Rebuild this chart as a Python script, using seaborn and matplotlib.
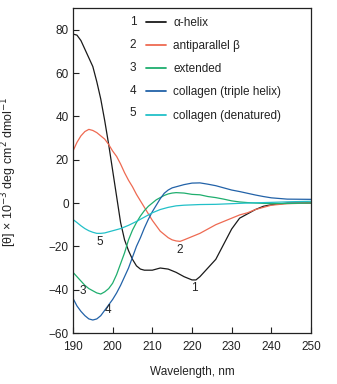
import numpy as np
import pandas as pd
import matplotlib
matplotlib.use("Agg")
import matplotlib.pyplot as plt
import seaborn as sns
from matplotlib.lines import Line2D

series_names = ["α-helix", "antiparallel β", "extended", "collagen (triple helix)", "collagen (denatured)"]
series_numbers = ["1", "2", "3", "4", "5"]
colors = ["#1a1a1a", "#ee6a52", "#1fae6e", "#2262a8", "#22c0c8"]

helix_wl = [190, 191, 192, 193, 194, 195, 196, 197, 198, 199, 200, 201, 202, 203, 204, 205, 206, 207, 208, 210, 212, 214, 216, 218, 220, 221, 222, 224, 226, 228, 230, 232, 234, 236, 238, 240, 244, 250]
helix_val = [78, 77.5, 75, 71, 67, 63, 56, 48, 38, 27, 15, 3, -9, -17, -22, -26, -29, -30.5, -31, -31, -30, -30.5, -32, -34, -35.5, -35.5, -34, -30, -26, -19, -12, -7, -5, -3, -1.5, -0.8, 0, 0]

beta_wl = [190, 191, 192, 193, 194, 195, 196, 197, 198, 199, 200, 201, 202, 203, 204, 205, 206, 207, 208, 209, 210, 211, 212, 213, 214, 215, 216, 217, 218, 220, 222, 224, 226, 228, 230, 232, 234, 236, 238, 240, 244, 250]
beta_val = [24, 28, 31, 33, 34, 33.5, 32.5, 31, 29.5, 27, 24, 21.5, 18, 14, 10.5, 7.5, 4, 1, -2, -5, -8, -10.5, -13, -14.5, -16, -17, -17.5, -17.7, -17, -15.5, -14, -12, -10, -8.5, -7, -5.5, -4.5, -3, -2, -1, -0.3, 0]

ext_wl = [190, 191, 192, 193, 194, 195, 196, 197, 198, 199, 200, 201, 202, 203, 204, 205, 206, 207, 208, 209, 210, 211, 212, 213, 214, 215, 216, 218, 220, 222, 224, 226, 228, 230, 232, 234, 236, 240, 244, 250]
ext_val = [-32, -34, -36, -38, -39.5, -40.5, -41.5, -42, -41, -39.5, -37, -33, -28, -23, -17, -12.5, -9, -6, -3.5, -1.5, 0, 1.5, 2.5, 3.5, 4.2, 4.6, 4.8, 4.6, 4, 3.8, 3, 2.5, 1.8, 1, 0.5, 0.2, 0, -0.3, -0.2, 0]

trip_wl = [190, 191, 192, 193, 194, 195, 196, 197, 198, 199, 200, 201, 202, 203, 204, 205, 206, 207, 208, 209, 210, 211, 212, 213, 214, 215, 216, 218, 220, 222, 224, 226, 228, 230, 232, 234, 236, 238, 240, 244, 250]
trip_val = [-44, -47.5, -50, -52, -53.5, -54, -53.5, -52, -49.5, -47, -44.5, -41.5, -38, -34, -30, -25, -20, -16, -11.5, -7.5, -4, -1, 2, 4.5, 6, 7, 7.5, 8.5, 9.2, 9.3, 8.7, 8, 7, 6, 5.3, 4.5, 3.7, 3, 2.4, 1.8, 1.7]

den_wl = [190, 191, 192, 193, 194, 195, 196, 197, 198, 199, 200, 202, 204, 206, 208, 210, 212, 214, 216, 218, 222, 226, 230, 234, 240, 245, 250]
den_val = [-7.6, -9, -10.5, -11.8, -12.8, -13.5, -14, -14, -13.8, -13.3, -12.8, -11.8, -10.3, -8.5, -6.5, -4.5, -3, -2, -1.3, -1, -0.7, -0.6, -0.3, 0, 0.3, 0.6, 0.8]

label_wl = [220.7, 217, 192.5, 198.9, 196.8]
label_val = [-39, -21.5, -40.5, -49.5, -18]

all_wl = [helix_wl, beta_wl, ext_wl, trip_wl, den_wl]
all_val = [helix_val, beta_val, ext_val, trip_val, den_val]

frames = []
for name, wl, val in zip(series_names, all_wl, all_val):
    frames.append(pd.DataFrame({"wl": wl, "val": val, "series": name}))
df = pd.concat(frames, ignore_index=True)

sns.set_style("ticks")
plt.rcParams["font.family"] = ["Liberation Sans", "DejaVu Sans"]
plt.rcParams["axes.unicode_minus"] = True

fig = plt.figure(figsize=(3.37, 3.84), dpi=100)
ax = fig.add_axes([0.2166, 0.1328, 0.7062, 0.8462])

sns.lineplot(data=df, x="wl", y="val", hue="series", palette=colors,
             hue_order=series_names, estimator=None, sort=False,
             linewidth=0.9, legend=False, ax=ax)

ax.set_xlim(190, 250)
ax.set_ylim(-60, 90)
ax.set_xticks([190, 200, 210, 220, 230, 240, 250])
ax.set_yticks([-60, -40, -20, 0, 20, 40, 60, 80])
ax.tick_params(direction="in", length=4, width=0.8, labelsize=8.5, colors="#222222", pad=3)
ax.tick_params(axis="x", pad=6)
for s in ax.spines.values():
    s.set_linewidth(0.9)
    s.set_color("#222222")
    s.set_visible(True)

ax.set_xlabel("Wavelength, nm", fontsize=8.5, color="#222222", labelpad=9)
ax.set_ylabel("")
fig.text(0.027, 0.552, r"[θ] × 10$^{-3}$ deg cm$^{2}$ dmol$^{-1}$", rotation=90,
         fontsize=9, color="#222222", va="center", ha="center")

for num, x, y in zip(series_numbers, label_wl, label_val):
    ax.text(x, y, num, fontsize=8.5, color="#222222", ha="center", va="center")

handles = [Line2D([], [], color=c, linewidth=1.3) for c in colors]
leg = ax.legend(handles, series_names, loc="upper left", bbox_to_anchor=(0.275, 0.995),
                frameon=False, fontsize=8.5, handlelength=1.75, handletextpad=0.6,
                labelspacing=0.95, borderaxespad=0.2)
for t in leg.get_texts():
    t.set_color("#222222")

row_y = [0.957, 0.886, 0.815, 0.745, 0.677]
for num, y in zip(series_numbers, row_y):
    ax.text(0.252, y, num, transform=ax.transAxes, fontsize=8.5, color="#222222",
            ha="center", va="center")

fig.savefig("out.png", dpi=100)
